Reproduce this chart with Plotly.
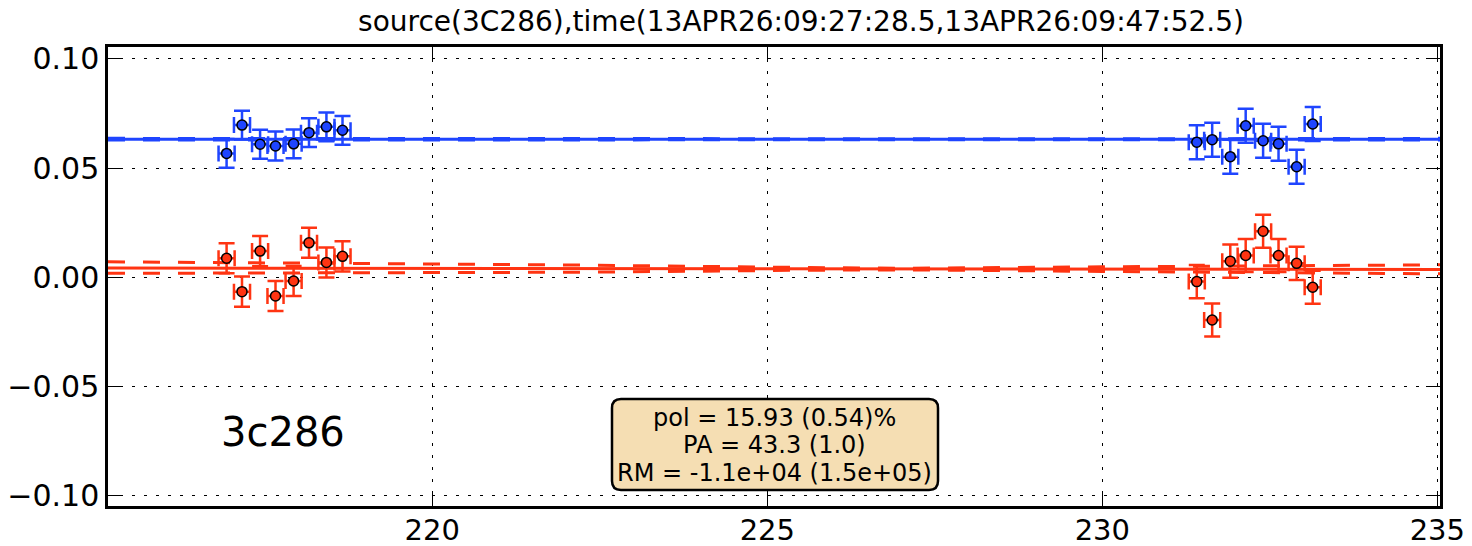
import plotly.graph_objects as go

# ---------------- data ----------------
freq_left = [216.93, 217.16, 217.43, 217.66, 217.93, 218.16, 218.42, 218.66]
freq_right = [231.41, 231.64, 231.91, 232.14, 232.40, 232.63, 232.90, 233.14]
freq = freq_left + freq_right

q_vals = [0.0567, 0.0697, 0.0609, 0.0601, 0.0611, 0.0662, 0.0689, 0.0673,
          0.0618, 0.0630, 0.0552, 0.0694, 0.0625, 0.0611, 0.0506, 0.0702]
u_vals = [0.0086, -0.0067, 0.0119, -0.0087, -0.0018, 0.0157, 0.0067, 0.0095,
          -0.0021, -0.0197, 0.0073, 0.0099, 0.0210, 0.0099, 0.0063, -0.0047]
q_err = [0.0066] * 8 + [0.0078] * 8
u_err = [0.0069] * 8 + [0.0076] * 8
f_err = [0.12] * 16

model_x = [215.16, 222.13, 225.48, 227.0, 230.0, 235.04]
q_model = [0.0632, 0.0632, 0.0632, 0.0632, 0.0632, 0.0632]
q_model_hi = [0.0636, 0.0635, 0.0634, 0.0633, 0.0634, 0.0636]
q_model_lo = [0.0628, 0.0629, 0.0630, 0.0631, 0.0630, 0.0628]
u_model = [0.0041, 0.0039, 0.0037, 0.0037, 0.0036, 0.0035]
u_model_hi = [0.0070, 0.0055, 0.0044, 0.0040, 0.0047, 0.0056]
u_model_lo = [0.0017, 0.0022, 0.0031, 0.0033, 0.0026, 0.0015]

x_ticks = [220, 225, 230, 235]
y_ticks = [-0.10, -0.05, 0.00, 0.05, 0.10]
y_ticktext = ["\u22120.10", "\u22120.05", "0.00", "0.05", "0.10"]

title_text = "source(3C286),time(13APR26:09:27:28.5,13APR26:09:47:52.5)"
source_label = "3c286"
fit_lines = ["pol = 15.93 (0.54)%", "PA = 43.3 (1.0)", "RM = -1.1e+04 (1.5e+05)"]

BLUE = "#1f45ff"
RED = "#ff3412"
FONT = "DejaVu Sans"

fig = go.Figure()

# model lines
for yv, dash in [(q_model_hi, "17px,18px"), (q_model_lo, "17px,18px"), (q_model, "solid")]:
    fig.add_trace(go.Scatter(x=model_x, y=yv, mode="lines",
                             line=dict(color=BLUE, width=3, dash=dash),
                             hoverinfo="skip", showlegend=False))
for yv, dash in [(u_model_hi, "17px,18px"), (u_model_lo, "17px,18px"), (u_model, "solid")]:
    fig.add_trace(go.Scatter(x=model_x, y=yv, mode="lines",
                             line=dict(color=RED, width=3, dash=dash),
                             hoverinfo="skip", showlegend=False))

# data points
for yv, ye, col in [(q_vals, q_err, BLUE), (u_vals, u_err, RED)]:
    fig.add_trace(go.Scatter(
        x=freq, y=yv, mode="markers",
        marker=dict(color=col, size=10, line=dict(color="black", width=1.5)),
        error_y=dict(type="data", array=ye, color=col, thickness=2.5, width=8),
        error_x=dict(type="data", array=f_err, color=col, thickness=2.5, width=8),
        showlegend=False))

L, R, T, B = 108, 32, 47, 40
W, H = 1472, 546
pw, ph = W - L - R, H - T - B

def px2paper_x(px):
    return (px - L) / pw

def px2paper_y(py):
    return (H - B - py) / ph

# rounded annotation box
x0, x1 = px2paper_x(612), px2paper_x(938)
y1, y0 = px2paper_y(399), px2paper_y(490)
rx, ry = 9 / pw, 9 / ph
path = (f"M {x0+rx},{y0} L {x1-rx},{y0} Q {x1},{y0} {x1},{y0+ry} "
        f"L {x1},{y1-ry} Q {x1},{y1} {x1-rx},{y1} L {x0+rx},{y1} "
        f"Q {x0},{y1} {x0},{y1-ry} L {x0},{y0+ry} Q {x0},{y0} {x0+rx},{y0} Z")
fig.add_shape(type="path", path=path, xref="paper", yref="paper",
              fillcolor="#f5deb3", line=dict(color="black", width=2.5), layer="above")

for txt, py in zip(fit_lines, [418, 445, 473]):
    fig.add_annotation(x=px2paper_x(775), y=px2paper_y(py), xref="paper", yref="paper",
                       text=txt, showarrow=False, xanchor="center", yanchor="middle",
                       font=dict(family=FONT, size=24, color="black"))

fig.add_annotation(x=px2paper_x(283), y=px2paper_y(432), xref="paper", yref="paper",
                   text=source_label, showarrow=False, xanchor="center", yanchor="middle",
                   font=dict(family=FONT, size=40, color="black"))

fig.update_layout(
    width=W, height=H,
    margin=dict(l=L, r=R, t=T, b=B, autoexpand=False),
    paper_bgcolor="white", plot_bgcolor="white",
    title=dict(text=title_text, x=801 / W, xanchor="center",
               y=1 - 21 / H, yanchor="middle",
               font=dict(family=FONT, size=28, color="black")),
    font=dict(family=FONT, color="black"),
)
axis_common = dict(showline=True, linecolor="black", linewidth=2.5, mirror="allticks",
                   ticks="inside", ticklen=14, tickwidth=1, tickcolor="black",
                   showgrid=True, gridcolor="black", gridwidth=1, griddash="3px,9px",
                   zeroline=False, automargin=False)
fig.update_xaxes(range=[215.16, 235.04], tickvals=x_ticks,
                 ticktext=[str(v) for v in x_ticks], ticklabelstandoff=-4,
                 tickfont=dict(family=FONT, size=29, color="black"), **axis_common)
fig.update_yaxes(range=[-0.105, 0.1055], tickvals=y_ticks, ticktext=y_ticktext,
                 tickfont=dict(family=FONT, size=30, color="black"), **axis_common)

fig.write_html("out.html")
